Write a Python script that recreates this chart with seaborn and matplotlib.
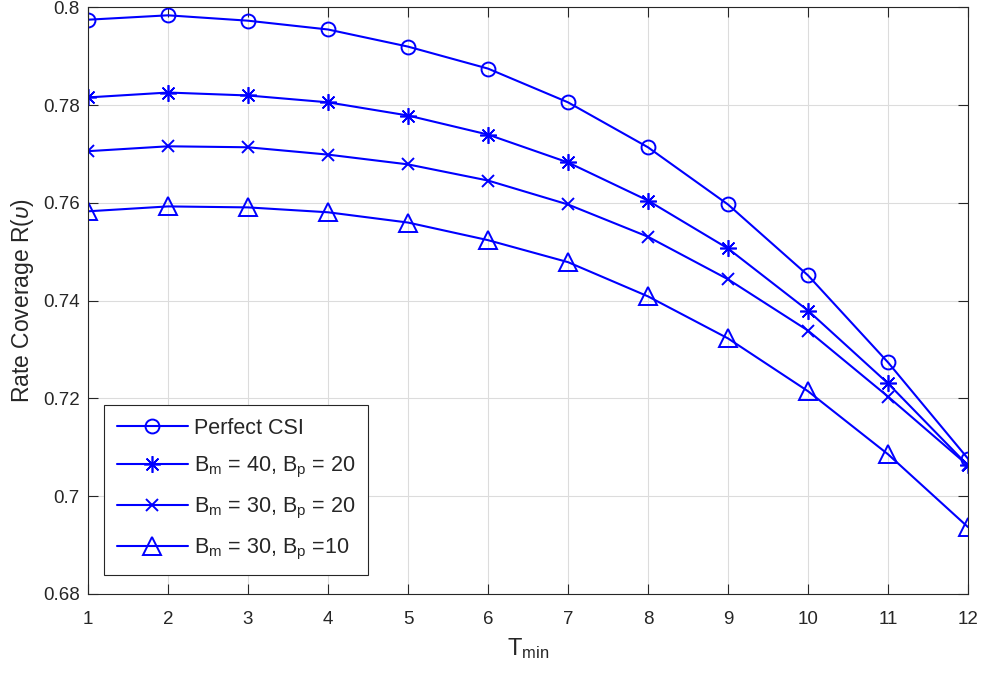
import matplotlib
matplotlib.use("Agg")
import matplotlib.pyplot as plt
import seaborn as sns

# Threshold values on the x axis
t_min = [1, 2, 3, 4, 5, 6, 7, 8, 9, 10, 11, 12]

# Rate coverage for each feedback configuration
perfect_csi = [0.7975, 0.7984, 0.7973, 0.7955, 0.7920, 0.7875,
               0.7806, 0.7714, 0.7597, 0.7452, 0.7274, 0.7077]
bm40_bp20 = [0.7816, 0.7826, 0.7820, 0.7806, 0.7779, 0.7740,
             0.7683, 0.7605, 0.7507, 0.7380, 0.7231, 0.7063]
bm30_bp20 = [0.7706, 0.7716, 0.7714, 0.7699, 0.7679, 0.7646,
             0.7597, 0.7531, 0.7444, 0.7339, 0.7204, 0.7063]
bm30_bp10 = [0.7583, 0.7593, 0.7591, 0.7581, 0.7560, 0.7524,
             0.7479, 0.7409, 0.7323, 0.7215, 0.7086, 0.6937]

series_labels = [
    "Perfect CSI",
    r"B$_\mathregular{m}$ = 40, B$_\mathregular{p}$ = 20",
    r"B$_\mathregular{m}$ = 30, B$_\mathregular{p}$ = 20",
    r"B$_\mathregular{m}$ = 30, B$_\mathregular{p}$ =10",
]
series_values = [perfect_csi, bm40_bp20, bm30_bp20, bm30_bp10]
series_markers = ["o", (8, 2, 0), "x", "^"]
marker_sizes = [10, 12, 9, 12.5]
marker_widths = [1.4, 1.2, 1.4, 1.4]

x_ticks = list(range(1, 13))
y_ticks = [0.68, 0.70, 0.72, 0.74, 0.76, 0.78, 0.80]
y_tick_labels = ["0.68", "0.7", "0.72", "0.74", "0.76", "0.78", "0.8"]

sns.set_theme(style="whitegrid")
plt.rcParams["font.family"] = ["Liberation Sans", "DejaVu Sans"]
plt.rcParams["mathtext.fontset"] = "custom"
plt.rcParams["mathtext.rm"] = "Liberation Sans"
plt.rcParams["mathtext.it"] = "Liberation Sans:italic"

blue = "#0000ff"
ink = "#262626"
fig = plt.figure(figsize=(9.82, 6.75), dpi=100)
ax = fig.add_axes([0.0896, 0.12, 0.8961, 0.8689])
ax.set_facecolor("white")

for lab, vals, mk, ms, mw in zip(series_labels, series_values, series_markers,
                                 marker_sizes, marker_widths):
    sns.lineplot(x=t_min, y=vals, ax=ax, color=blue, linewidth=1.5,
                 marker=mk, markersize=ms, markerfacecolor="none",
                 markeredgecolor=blue, markeredgewidth=mw, label=lab)

ax.set_xlim(1, 12)
ax.set_ylim(0.68, 0.80)
ax.set_xticks(x_ticks)
ax.set_yticks(y_ticks)
ax.set_yticklabels(y_tick_labels)
ax.tick_params(axis="both", which="both", direction="in", length=7,
               width=0.8, color=ink, labelsize=13.5, labelcolor=ink,
               top=True, right=True, bottom=True, left=True)
ax.tick_params(axis="x", pad=12)
ax.tick_params(axis="y", pad=6)
ax.grid(True, color="#dcdcdc", linewidth=0.8)
for sp in ax.spines.values():
    sp.set_color(ink)
    sp.set_linewidth(0.8)
    sp.set_visible(True)

ax.set_xlabel(r"T$_\mathregular{min}$", fontsize=17, color=ink, labelpad=6)
ax.set_ylabel(r"Rate Coverage R($\upsilon$)", fontsize=16.5, color=ink, labelpad=5)

leg = ax.legend(loc="lower left", bbox_to_anchor=(0.018, 0.032),
                borderaxespad=0, fontsize=15.5, frameon=True, fancybox=False,
                edgecolor=ink, framealpha=1, handlelength=3.3,
                borderpad=0.6, labelspacing=0.75, handletextpad=0.3)
leg.get_frame().set_linewidth(0.8)

fig.savefig("out.png", dpi=100)
